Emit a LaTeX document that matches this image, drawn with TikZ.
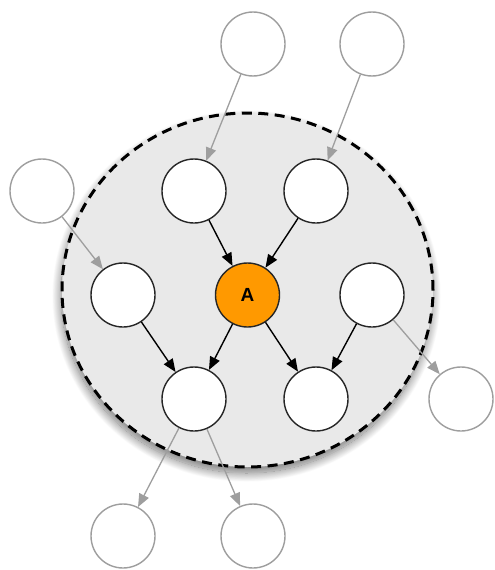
\documentclass[tikz,border=0pt]{standalone}
\usepackage{fontspec}
\setsansfont{Liberation Sans}
\usetikzlibrary{arrows.meta,shapes.geometric,shadows.blur}
\definecolor{aorange}{HTML}{FF9900}
\definecolor{blanketfill}{HTML}{E9E9E9}
\definecolor{faint}{HTML}{9E9E9E}
\begin{document}
\begin{tikzpicture}[x=1pt,y=-1pt,
  member/.style={circle,draw=black!85,line width=1.4pt,fill=white,
    minimum size=64pt,inner sep=0pt},
  outsider/.style={circle,draw=faint,line width=1.4pt,fill=white,
    minimum size=64pt,inner sep=0pt},
  focus/.style={member,fill=aorange,font=\sffamily\bfseries\fontsize{19}{19}\selectfont},
  strong/.style={-{Triangle[length=13pt,width=10.5pt]},line width=1.4pt,black},
  weak/.style={-{Triangle[length=13pt,width=10.5pt]},line width=1.3pt,faint},
  blanket/.style={ellipse,minimum width=371pt,minimum height=354pt,inner sep=0pt,
    fill=blanketfill,draw=black,line width=3pt,dash pattern=on 10pt off 6.5pt,
    blur shadow={shadow xshift=-1pt,shadow yshift=-6pt,shadow blur radius=9pt,
      shadow blur steps=25,shadow opacity=55}},
]
\useasboundingbox (0,0) rectangle (495,570);

% Markov blanket region
\node[blanket] (region) at (247.5,290) {};

% nodes inside the blanket
\node[member] (tl) at (194,191) {};
\node[member] (tr) at (316,191) {};
\node[member] (ml) at (123,295) {};
\node[focus]  (a)  at (247.5,295) {A};
\node[member] (mr) at (372,295) {};
\node[member] (bl) at (194,399) {};
\node[member] (br) at (316,399) {};

% nodes outside the blanket
\node[outsider] (t1) at (253,44) {};
\node[outsider] (t2) at (372,44) {};
\node[outsider] (lo) at (42,191) {};
\node[outsider] (ro) at (461,399) {};
\node[outsider] (b1) at (123,536) {};
\node[outsider] (b2) at (253,536) {};

% edges within the blanket
\draw[strong] (tl) -- (a);
\draw[strong] (tr) -- (a);
\draw[strong] (ml) -- (bl);
\draw[strong] (a) -- (bl);
\draw[strong] (a) -- (br);
\draw[strong] (mr) -- (br);

% edges crossing the blanket
\draw[weak] (t1) -- (tl);
\draw[weak] (t2) -- (tr);
\draw[weak] (lo) -- (ml);
\draw[weak] (mr) -- (ro);
\draw[weak] (bl) -- (b1);
\draw[weak] (bl) -- (b2);
\end{tikzpicture}
\end{document}
